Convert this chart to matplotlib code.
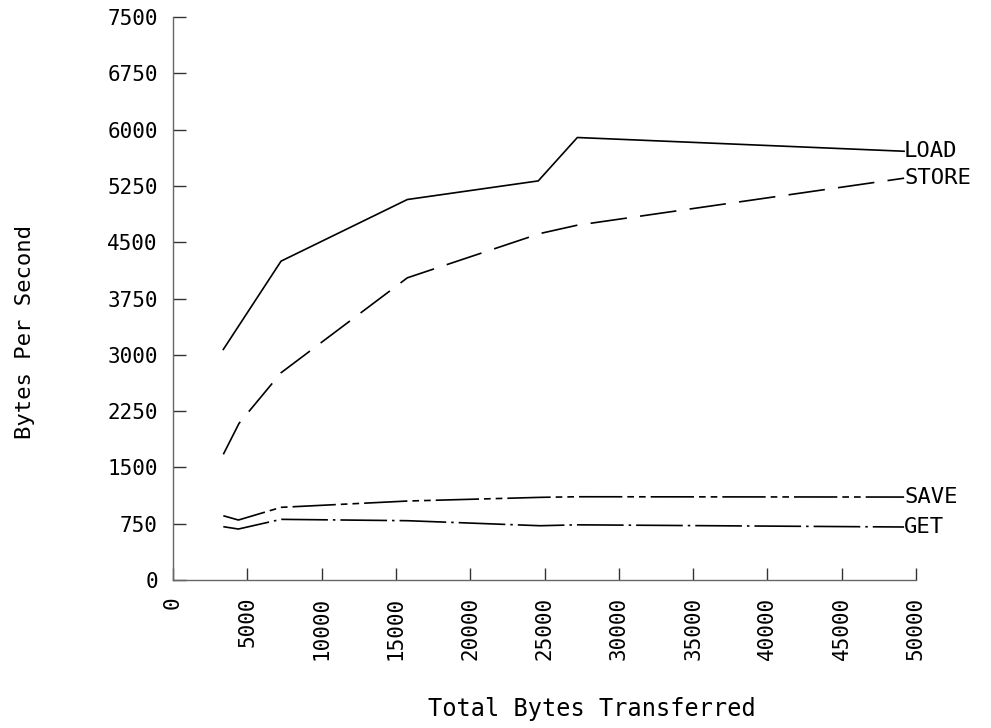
import matplotlib
matplotlib.use("Agg")
import matplotlib.pyplot as plt

# data
load_x = [3385, 7270, 15770, 24580, 27210, 49200]
load_y = [3072, 4248, 5069, 5317, 5895, 5712]

store_x = [3385, 4440, 7270, 15770, 24700, 27210, 49200]
store_y = [1674, 2086, 2761, 4026, 4616, 4727, 5353]

save_x = [3385, 4400, 7270, 15770, 24700, 27210, 49200]
save_y = [856, 799, 968, 1052, 1101, 1109, 1105]

get_x = [3385, 4400, 7270, 15770, 24700, 27210, 49200]
get_y = [710, 679, 808, 790, 723, 735, 706]

x_ticks = list(range(0, 50001, 5000))
y_ticks = list(range(0, 7501, 750))

plt.rcParams['font.family'] = ['DejaVu Sans Mono']

fig = plt.figure(figsize=(9.91, 7.28), dpi=100)
ax = fig.add_axes([0.1746, 0.2033, 0.7497, 0.7733])

ax.plot(load_x, load_y, color='black', lw=1.2)
ax.plot(store_x, store_y, color='black', lw=1.2, dashes=(22, 8))
ax.plot(save_x, save_y, color='black', lw=1.2, dashes=(26, 3, 4, 3, 4, 3))
ax.plot(get_x, get_y, color='black', lw=1.2, dashes=(28, 3, 1.5, 3))

# end-of-line labels
ends = [("LOAD", load_x[-1], load_y[-1]), ("STORE", store_x[-1], store_y[-1]),
        ("SAVE", save_x[-1], save_y[-1]), ("GET", get_x[-1], get_y[-1])]
for name, x, y in ends:
    ax.text(x, y, name, fontsize=16, va='center', ha='left', clip_on=False)

ax.set_xlim(0, 50000)
ax.set_ylim(0, 7500)
ax.set_xticks(x_ticks)
ax.set_yticks(y_ticks)
ax.set_xticklabels([str(v) for v in x_ticks], rotation=90, va='top', ha='center')
ax.tick_params(direction='in', length=9, width=1, labelsize=15, color='#333333')
ax.tick_params(axis='x', pad=12)
ax.tick_params(axis='y', pad=11)

for side in ['top', 'right']:
    ax.spines[side].set_visible(False)
for side in ['left', 'bottom']:
    ax.spines[side].set_color('#666666')
    ax.spines[side].set_linewidth(1)

ax.set_xlabel("Total Bytes Transferred", fontsize=17)
ax.set_ylabel("Bytes Per Second", fontsize=16)
ax.xaxis.set_label_coords(0.564, -0.207)
ax.yaxis.set_label_coords(-0.186, 0.44)

fig.savefig("out.png", dpi=100)
